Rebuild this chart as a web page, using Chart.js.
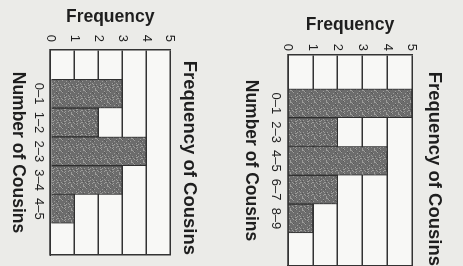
<!DOCTYPE html>
<html>
<head>
<meta charset="utf-8">
<script src="https://cdn.jsdelivr.net/npm/chart.js@4"></script>
<style>
  body { margin: 0; width: 463px; height: 266px; overflow: hidden; background: #ebebe8; position: relative; }
  .turn { position: absolute; top: 0; transform-origin: 0 0; transform: rotate(90deg); }
</style>
</head>
<body>
<div class="turn" style="left:205px; width:266px; height:205px;"><canvas id="left" width="266" height="205"></canvas></div>
<div class="turn" style="left:460px; width:270px; height:230px;"><canvas id="right" width="270" height="230"></canvas></div>
<script>
// data
const leftLabels = ["0–1", "1–2", "2–3", "3–4", "4–5"];
const leftCounts = [3, 2, 4, 3, 1];
const rightLabels = ["0–1", "2–3", "4–5", "6–7", "8–9"];
const rightCounts = [5, 2, 4, 2, 1];
const freqTicks = [0, 1, 2, 3, 4, 5];

const ink = "#1e1e1e";
const lineCol = "#333";
const family = "'Liberation Sans', Arial, sans-serif";

// speckled grey fill, like the printed bars
function barFill() {
  var c = document.createElement("canvas");
  c.width = 12; c.height = 12;
  var g = c.getContext("2d");
  g.fillStyle = "#6c6c6c";
  g.fillRect(0, 0, 12, 12);
  for (var i = 0; i < 12; i++) {
    for (var j = 0; j < 12; j++) {
      var h = (i * 37 + j * 91 + i * j * 13) % 17;
      if (h < 3) { g.fillStyle = "#9d9d9b"; g.fillRect(i, j, 1, 1); }
      else if (h == 5) { g.fillStyle = "#555"; g.fillRect(i, j, 1, 1); }
    }
  }
  return g.createPattern(c, "repeat");
}

const areaBg = {
  id: "areaBg",
  beforeDraw(chart) {
    const a = chart.chartArea, ctx = chart.ctx;
    ctx.save();
    ctx.fillStyle = "#f8f8f6";
    ctx.fillRect(a.left, a.top, a.width, a.height);
    ctx.restore();
  }
};

function makeChart(id, labels, counts, s) {
  return new Chart(id, {
    type: "bar",
    data: {
      datasets: [{
        data: counts.map((v, i) => ({ x: i, y: v })),
        backgroundColor: barFill(),
        borderColor: "#2e2e2e",
        borderWidth: 1,
        categoryPercentage: 1,
        barPercentage: 1
      }]
    },
    options: {
      responsive: false,
      animation: false,
      devicePixelRatio: 1,
      layout: { padding: s.pad },
      plugins: {
        legend: { display: false },
        tooltip: { enabled: false },
        title: {
          display: true,
          text: "Frequency of Cousins",
          align: "end",
          color: ink,
          font: { family: family, size: 18.5, weight: "bold" },
          padding: s.titlePad
        }
      },
      scales: {
        x: {
          type: "linear",
          min: s.xmin,
          max: s.xmax,
          afterBuildTicks: sc => { sc.ticks = labels.map((l, i) => ({ value: i })); },
          ticks: {
            callback: v => labels[v],
            color: ink,
            font: { family: family, size: 13, lineHeight: 1 },
            padding: s.xTickPad,
            maxRotation: 0,
            autoSkip: false
          },
          grid: { display: false, drawTicks: false },
          border: { display: true, color: lineCol, width: 1.5 },
          title: {
            display: true,
            text: "Number of Cousins",
            color: ink,
            font: { family: family, size: 17.5, weight: "bold", lineHeight: 1 },
            padding: s.xTitlePad
          }
        },
        y: {
          min: 0,
          max: 5,
          afterBuildTicks: sc => { sc.ticks = freqTicks.map(v => ({ value: v })); },
          ticks: { color: ink, font: { family: family, size: 13 }, padding: s.yTickPad },
          grid: { color: lineCol, lineWidth: 1.5, drawTicks: false },
          border: { display: true, color: lineCol, width: 1.5 },
          title: {
            display: true,
            text: "Frequency",
            color: ink,
            font: { family: family, size: 17.5, weight: "bold", lineHeight: 1 },
            padding: s.yTitlePad
          }
        },
        yr: {
          position: "right",
          grid: { display: false, drawTicks: false },
          ticks: { display: false },
          border: { display: true, color: lineCol, width: 1.5 }
        }
      }
    },
    plugins: [areaBg]
  });
}

makeChart("left", leftLabels, leftCounts, {
  pad: { left: 4, right: 11, top: 2, bottom: 4 },
  titlePad: { top: 2.4, bottom: 8.4 },
  xmin: -0.806, xmax: 4.889,
  xTickPad: 5.5,
  xTitlePad: { top: 0, bottom: 4.9 },
  yTickPad: 8,
  yTitlePad: { top: 4.25, bottom: 1 }
});

makeChart("right", rightLabels, rightCounts, {
  pad: { left: 4, right: 4, top: 4, bottom: 4 },
  titlePad: { top: 10.4, bottom: 11.4 },
  xmin: -0.944, xmax: 4.917,
  xTickPad: 5.5,
  xTitlePad: { top: 4.75, bottom: 7.75 },
  yTickPad: 4,
  yTitlePad: { top: 12.25, bottom: 6 }
});
</script>
</body>
</html>
